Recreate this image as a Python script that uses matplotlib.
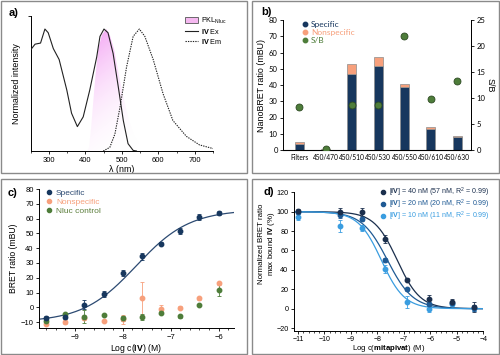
import numpy as np
import matplotlib
matplotlib.use("Agg")
import matplotlib.pyplot as plt
from matplotlib.patches import Rectangle, Patch
from matplotlib.lines import Line2D
from matplotlib.colors import LinearSegmentedColormap
from matplotlib.ticker import MultipleLocator, AutoMinorLocator

plt.rcParams['font.family'] = ['Liberation Sans', 'DejaVu Sans']
plt.rcParams['mathtext.fontset'] = 'custom'
plt.rcParams['mathtext.rm'] = 'Liberation Sans'
plt.rcParams['mathtext.bf'] = 'Liberation Sans:bold'

# ---------------- Panel a data ----------------
ex_nm = [250, 262, 277, 289, 298, 312, 328, 349, 362, 378, 394, 412, 431, 440, 451, 462, 476, 490, 504, 517, 531, 540]
ex_val = [0.83, 0.876, 0.885, 1.0, 0.97, 0.84, 0.75, 0.5, 0.31, 0.2, 0.28, 0.5, 0.77, 0.94, 1.0, 0.97, 0.80, 0.53, 0.25, 0.06, 0.005, 0.0]
em_nm = [449, 467, 481, 495, 513, 531, 548, 563, 586, 613, 640, 677, 713, 750]
em_val = [0.0, 0.03, 0.14, 0.36, 0.69, 0.94, 1.0, 0.94, 0.75, 0.47, 0.25, 0.12, 0.05, 0.02]
pkl_nm = [405, 410, 416, 422, 428, 435, 445, 457, 467, 479, 492, 506, 520, 535, 556, 570]
pkl_val = [0.0, 0.03, 0.2, 0.42, 0.63, 0.83, 0.95, 1.0, 0.95, 0.83, 0.62, 0.42, 0.25, 0.12, 0.03, 0.0]

# ---------------- Panel b data ----------------
filters = ["Filters", "450/470", "450/510", "450/530", "450/550", "450/610", "450/630"]
specific_b = [4.0, 0.3, 46.8, 51.7, 39.0, 12.7, 7.8]
nonspecific_b = [0.8, 0.1, 5.9, 5.7, 1.8, 1.7, 0.8]
sb_ratio = [8.3, 0.2, 8.65, 8.65, 21.9, 9.9, 13.2]

# ---------------- Panel c data ----------------
logc_iv = [-9.6, -9.2, -8.8, -8.4, -8.0, -7.6, -7.2, -6.8, -6.4, -6.0]
spec_c = [-7.5, -6.4, 1.6, 9.1, 23.4, 34.5, 43.0, 51.4, 61.1, 63.6]
spec_c_err = [1.5, 1.5, 3.0, 2.0, 2.0, 2.5, 1.0, 2.0, 2.0, 1.5]
nons_c = [-11.4, -9.8, -7.0, -9.1, -8.0, 6.1, -1.1, -0.2, 6.0, 16.1]
nons_c_err = [0.8, 1.5, 1.5, 0.8, 3.0, 11.0, 2.5, 0.8, 1.0, 1.0]
nluc_c = [-9.1, -4.8, -6.4, -5.2, -7.5, -6.4, -3.6, -6.1, 1.6, 11.8]
nluc_c_err = [1.0, 1.0, 4.5, 1.0, 1.5, 2.0, 1.0, 1.0, 0.8, 4.0]
fit_c = dict(bottom=-10.0, top=66.0, logec50=-7.72, hill=0.78)

# ---------------- Panel d data ----------------
logc_mit = [-11.0, -9.42, -8.57, -7.73, -6.88, -6.04, -5.19, -4.35]
d40 = [100.3, 99.7, 100.0, 72.0, 29.7, 10.0, 7.0, 1.4]
d40_err = [2, 4, 4, 4, 1.5, 4, 3, 5]
d20 = [99.3, 96.2, 92.4, 50.3, 20.0, 5.0, 5.5, 0.3]
d20_err = [2, 3, 2, 2, 1.5, 2, 2, 3]
d10 = [94.5, 85.5, 83.0, 40.7, 7.2, -0.3, 4.8, 1.0]
d10_err = [3, 6, 3, 4, 6, 3, 2, 3]
fit_d = {"40": (-7.25, 1.0), "20": (-7.62, 0.9), "10": (-7.85, 1.0)}
d_labels = [r"[$\mathbf{IV}$] = 40 nM (57 nM, R$^2$ = 0.99)",
            r"[$\mathbf{IV}$] = 20 nM (20 nM, R$^2$ = 0.99)",
            r"[$\mathbf{IV}$] = 10 nM (11 nM, R$^2$ = 0.99)"]

NAVY = "#17375e"
SALMON = "#f7a07c"
GREEN = "#4e7d3a"
C40 = "#1b2f4d"
C20 = "#1f5a94"
C10 = "#3a9de0"

fig = plt.figure(figsize=(5.0, 3.55), dpi=100)
W, H = 500.0, 355.0

def fr(x0, y0, x1, y1):
    return [x0 / W, 1 - y1 / H, (x1 - x0) / W, (y1 - y0) / H]

# panel borders
for (x0, y0, x1, y1) in [(1, 1, 247, 173), (252, 1, 499, 173), (1, 179, 247, 354), (252, 179, 499, 354)]:
    fig.patches.append(Rectangle((x0 / W, 1 - y1 / H), (x1 - x0) / W, (y1 - y0) / H,
                                 transform=fig.transFigure, fill=False, edgecolor="#8a8a8a", lw=1.0))

TICKFS = 5.5
LABFS = 6.4

def style(ax):
    ax.spines['top'].set_visible(False)
    ax.spines['right'].set_visible(False)
    for s in ax.spines.values():
        s.set_linewidth(0.7)
    ax.tick_params(axis='both', which='major', labelsize=TICKFS, length=2.5, width=0.6, pad=1.5)
    ax.tick_params(axis='both', which='minor', length=1.5, width=0.5)

# ================= Panel a =================
axa = fig.add_axes(fr(30.7, 16, 213, 151))
style(axa)
axa.set_xticks([300, 400, 500, 600, 700])
axa.xaxis.set_minor_locator(MultipleLocator(50))
xs = np.array(pkl_nm, float)
ys = np.array(pkl_val, float)
poly = axa.fill_between(xs, 0, ys, color='none', lw=0)
cmap = LinearSegmentedColormap.from_list("pk", [(1, 1, 1, 0.0), (0.95, 0.6, 0.95, 0.8)])
gx = np.linspace(0, 1, 256)
gy = np.linspace(0, 1, 256)
G = np.clip(0.25 + 0.85 * gy[:, None] - 0.35 * gx[None, :], 0, 1)
im = axa.imshow(G, extent=[400, 575, 0, 1.0], origin='lower', aspect='auto', cmap=cmap, zorder=1,
                vmin=0, vmax=1)
im.set_clip_path(poly.get_paths()[0], transform=axa.transData)
axa.plot(ex_nm, ex_val, color="#222222", lw=0.8, zorder=3)
axa.plot(em_nm, em_val, color="#222222", lw=0.8, ls=(0, (1.2, 1.0)), zorder=3)
axa.set_xlim(250, 750)
axa.set_ylim(0, 1.107)
axa.set_yticks([1.107])
axa.set_yticklabels([])
axa.set_xlabel("λ (nm)", fontsize=LABFS, labelpad=1)
axa.set_ylabel("Normalized intensity", fontsize=LABFS, labelpad=3)
handles_a = [Patch(facecolor="#f5b8f0", edgecolor="#555555", lw=0.6),
             Line2D([], [], color="#222222", lw=0.8),
             Line2D([], [], color="#222222", lw=0.8, ls=(0, (1.2, 1.0)))]
labels_a = [r"PKL$_{\mathrm{Nluc}}$", r"$\mathbf{IV}$ Ex", r"$\mathbf{IV}$ Em"]
axa.legend(handles_a, labels_a, loc='upper left', bbox_to_anchor=(0.82, 1.04), fontsize=5.2, frameon=False,
           handlelength=1.8, handleheight=0.8, labelspacing=0.15, borderpad=0.2, handletextpad=0.4)
fig.text(9 / W, 1 - 13 / H, "a)", fontsize=8, fontweight='bold', va='center')

# ================= Panel b =================
axb = fig.add_axes(fr(283.3, 20, 470.7, 150))
style(axb)
axb.spines['right'].set_visible(True)
pos = np.arange(len(filters))
bw = 0.34
axb.bar(pos, specific_b, width=bw, color=NAVY, edgecolor="#8c8c8c", lw=0.5, zorder=2)
axb.bar(pos, nonspecific_b, width=bw, bottom=specific_b, color=SALMON, edgecolor="#8c8c8c", lw=0.5, zorder=2)
axb.set_xlim(-0.61, 6.52)
axb.set_ylim(0, 80)
axb.yaxis.set_major_locator(MultipleLocator(10))
axb.set_xticks(pos)
axb.set_xticklabels(filters, fontsize=4.8, family=['Lato', 'DejaVu Sans'])
axb.tick_params(axis='x', length=0, pad=3)
for t in axb.get_yticklabels():
    t.set_family(['Lato', 'DejaVu Sans'])
axb.set_ylabel("NanoBRET ratio (mBU)", fontsize=LABFS, labelpad=2)
axb2 = axb.twinx()
axb2.set_position(fr(283.3, 20, 470.7, 150))
for s in ['top', 'left']:
    axb2.spines[s].set_visible(False)
axb2.spines['right'].set_linewidth(0.7)
axb2.set_ylim(0, 25)
axb2.yaxis.set_major_locator(MultipleLocator(5))
axb2.tick_params(axis='y', labelsize=TICKFS, length=2.5, width=0.6, pad=1.5)
for t in axb2.get_yticklabels():
    t.set_family(['Lato', 'DejaVu Sans'])
axb2.plot(pos, sb_ratio, 'o', color=GREEN, mec="#2d4a22", mew=0.6, ms=5.0, zorder=4)
axb2.set_ylabel("S/B", fontsize=LABFS, rotation=270, labelpad=7)
hb = [Line2D([], [], marker='o', ls='', color=NAVY, ms=3.2),
      Line2D([], [], marker='o', ls='', color=SALMON, ms=3.2),
      Line2D([], [], marker='o', ls='', color=GREEN, ms=3.2)]
legb = axb.legend(hb, ["Specific", "Nonspecific", "S/B"], loc='upper left', bbox_to_anchor=(0.06, 1.04),
                  frameon=False, handletextpad=0.3, labelspacing=0.15, borderpad=0.2,
                  handlelength=1.0, prop={'family': ['Lato', 'DejaVu Sans'], 'size': 6})
for t, c in zip(legb.get_texts(), [NAVY, SALMON, GREEN]):
    t.set_color(c)
fig.text(261 / W, 1 - 12 / H, "b)", fontsize=8, fontweight='bold', va='center')

# ================= Panel c =================
axc = fig.add_axes(fr(39.3, 189, 233.5, 328))
style(axc)
axc.set_xlim(-9.74, -5.69)
axc.set_ylim(-14, 80)
axc.set_xticks([-9, -8, -7, -6])
axc.xaxis.set_minor_locator(AutoMinorLocator(5))
axc.set_xticklabels(["\u22129", "\u22128", "\u22127", "\u22126"])
axc.set_yticks(range(-10, 81, 10))
axc.set_yticklabels([("\u2212" + str(-v)) if v < 0 else str(v) for v in range(-10, 81, 10)])
xx = np.linspace(-9.74, -5.69, 200)
fc = fit_c
yy = fc['bottom'] + (fc['top'] - fc['bottom']) / (1 + 10 ** (fc['hill'] * (fc['logec50'] - xx)))
axc.plot(xx, yy, color="#2c4a72", lw=0.9, zorder=2)
ekw = dict(fmt='o', ms=3.2, elinewidth=0.6, capsize=1.5, capthick=0.6, zorder=3)
axc.errorbar(logc_iv, nons_c, yerr=nons_c_err, color=SALMON, **ekw)
axc.errorbar(logc_iv, nluc_c, yerr=nluc_c_err, color=GREEN, **ekw)
axc.errorbar(logc_iv, spec_c, yerr=spec_c_err, color=NAVY, **ekw)
axc.set_xlabel(r"Log c($\mathbf{IV}$) (M)", fontsize=6.2, labelpad=1)
axc.set_ylabel("BRET ratio (mBU)", fontsize=6.2, labelpad=2)
hc = [Line2D([], [], marker='o', ls='', color=NAVY, ms=3),
      Line2D([], [], marker='o', ls='', color=SALMON, ms=3),
      Line2D([], [], marker='o', ls='', color=GREEN, ms=3)]
legc = axc.legend(hc, ["Specific", "Nonspecific", "Nluc control"], loc='upper left', bbox_to_anchor=(0.0, 1.04),
                  fontsize=6, frameon=False, handletextpad=0.3, labelspacing=0.15, borderpad=0.2, handlelength=1.0)
for t, c in zip(legc.get_texts(), ["#2c4a72", SALMON, "#5a7d3a"]):
    t.set_color(c)
fig.text(8 / W, 1 - 193 / H, "c)", fontsize=8, fontweight='bold', va='center')

# ================= Panel d =================
axd = fig.add_axes(fr(294, 192.3, 483.3, 331))
style(axd)
axd.tick_params(axis='x', which='major', pad=0.8, labelsize=5.0)
axd.tick_params(axis='y', which='major', labelsize=5.2)
axd.set_xlim(-11.15, -4.0)
axd.set_ylim(-23, 120)
axd.set_xticks(range(-11, -3))
axd.set_xticklabels(["\u2212" + str(-v) for v in range(-11, -3)])
axd.xaxis.set_minor_locator(AutoMinorLocator(5))
axd.set_yticks(range(-20, 121, 20))
axd.set_yticklabels([("\u2212" + str(-v)) if v < 0 else str(v) for v in range(-20, 121, 20)])
xd = np.linspace(-11.15, -4.0, 300)
for (key, c) in [("40", C40), ("20", C20), ("10", C10)]:
    lic, h = fit_d[key]
    axd.plot(xd, 100 / (1 + 10 ** (h * (xd - lic))), color=c, lw=0.9, zorder=2)
ekd = dict(fmt='o', ms=3.2, elinewidth=0.6, capsize=1.5, capthick=0.6, zorder=3)
axd.errorbar(logc_mit, d10, yerr=d10_err, color=C10, **ekd)
axd.errorbar(logc_mit, d20, yerr=d20_err, color=C20, **ekd)
axd.errorbar(logc_mit, d40, yerr=d40_err, color=C40, **ekd)
axd.set_xlabel(r"Log c($\mathbf{mitapivat}$) (M)", fontsize=5.6, labelpad=0)
axd.set_ylabel("Normalized BRET ratio\n" + r"max bound $\mathbf{IV}$ (%)", fontsize=5.7, linespacing=1.2)
axd.yaxis.set_label_coords(-0.088, 0.63)
hd = [Line2D([], [], marker='o', ls='', color=c, ms=3) for c in (C40, C20, C10)]
legd = axd.legend(hd, d_labels, loc='upper right', bbox_to_anchor=(1.06, 1.08), fontsize=5.1, frameon=False,
                  handletextpad=0.3, labelspacing=-0.2, borderpad=0.2, handlelength=1.0)
for t, c in zip(legd.get_texts(), (C40, C20, C10)):
    t.set_color(c)
fig.text(264 / W, 1 - 192 / H, "d)", fontsize=8, fontweight='bold', va='center')

fig.savefig("out.png", dpi=100)
